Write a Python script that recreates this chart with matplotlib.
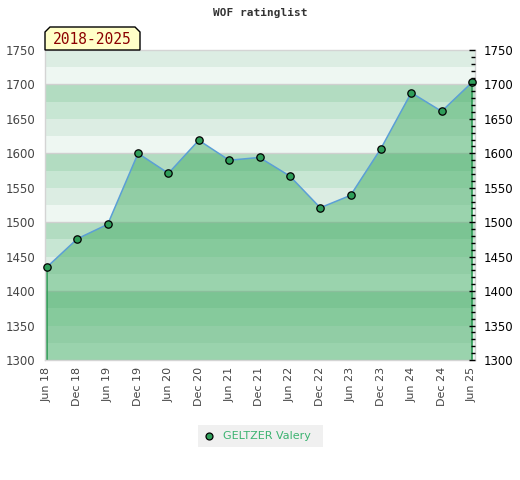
import matplotlib
matplotlib.use("Agg")
import matplotlib.pyplot as plt
from matplotlib.patches import Polygon
from matplotlib.ticker import MultipleLocator

# ---- data ----
periods = ["Jun 18", "Dec 18", "Jun 19", "Dec 19", "Jun 20", "Dec 20", "Jun 21", "Dec 21",
           "Jun 22", "Dec 22", "Jun 23", "Dec 23", "Jun 24", "Dec 24", "Jun 25"]
ratings = [1435, 1476, 1497, 1600, 1571, 1619, 1590, 1594,
           1567, 1521, 1539, 1607, 1688, 1661, 1703]
player = "GELTZER Valery"
title = "WOF ratinglist"
period_label = "2018-2025"
y_min, y_max = 1300, 1750

W, H = 520, 480
fig = plt.figure(figsize=(W / 100, H / 100), dpi=100)

def fx(px):
    return px / W

def fy(py):
    return 1 - py / H

ax_l, ax_r, ax_t, ax_b = 45, 475, 50, 360
ax = fig.add_axes([fx(ax_l), fy(ax_b), (ax_r - ax_l) / W, (ax_b - ax_t) / H])

x = list(range(len(periods)))
step = (472 - 47) / (len(periods) - 1)
ax.set_xlim(-(47 - ax_l) / step, (len(periods) - 1) + (ax_r - 472) / step)
ax.set_ylim(y_min, y_max)

# background bands (period of 100, four shades)
band_cols = ["#eef7f2", "#dcede3", "#c7e6d3", "#b2dcc1"]
lo = y_min
while lo < y_max:
    idx = int(((lo % 100) // 25))
    ax.axhspan(lo, lo + 25, color=band_cols[idx], lw=0, zorder=0)
    lo += 25
for g in range(y_min, y_max + 1, 100):
    ax.axhline(g, color="#d0d0d0", lw=1, zorder=0.5)

# area fill
ax.fill_between(x, ratings, y_min, facecolor="#3dab60", alpha=0.47, lw=0, zorder=1)
ax.plot([x[0], x[0]], [y_min, ratings[0]], color="#2f9a55", lw=1.2, zorder=2)
ax.plot([x[-1], x[-1]], [y_min, ratings[-1]], color="#2f9a55", lw=1.2, zorder=2)
ax.plot(x, ratings, color="#5b9fd6", lw=1.1, zorder=3)
ax.plot(x, ratings, ls="none", marker="o", markersize=5.3, markerfacecolor="#2f9e5a",
        markeredgecolor="black", markeredgewidth=0.9, zorder=4, clip_on=False)

for s in ["left", "top", "bottom", "right"]:
    ax.spines[s].set_color("#d4d4d4")
    ax.spines[s].set_linewidth(1)

ax.set_xticks(x)
ax.set_xticklabels(periods, rotation=90, fontsize=8, color="#444444")
ax.tick_params(axis="x", length=0, pad=5)
ax.yaxis.set_major_locator(MultipleLocator(50))
ax.tick_params(axis="y", length=0, pad=7, labelsize=8.5, labelcolor="#444444")

ax2 = ax.twinx()
ax2.set_ylim(y_min, y_max)
ax2.yaxis.set_major_locator(MultipleLocator(50))
ax2.yaxis.set_minor_locator(MultipleLocator(10))
ax2.tick_params(axis="y", which="major", direction="in", length=4, width=1,
                color="black", labelsize=8.5, labelcolor="black", pad=6)
ax2.tick_params(axis="y", which="minor", direction="in", length=3, width=1, color="black")
for s in ax2.spines.values():
    s.set_visible(False)

# title
fig.text(0.5, fy(13), title, ha="center", va="center", fontsize=8,
         family="DejaVu Sans Mono", fontweight="bold", color="#333333")

# period label box with chamfered top corners
bx0, bx1, by0, by1, c = 45, 140, 27, 50, 5
pts = [(bx0, by1), (bx0, by0 + c), (bx0 + c, by0), (bx1 - c, by0), (bx1, by0 + c), (bx1, by1)]
poly = Polygon([(fx(px), fy(py)) for px, py in pts], closed=True,
               transform=fig.transFigure, facecolor="#ffffc8", edgecolor="black",
               lw=1, zorder=10)
fig.add_artist(poly)
fig.text(fx((bx0 + bx1) / 2), fy(39.5), period_label, ha="center", va="center",
         fontsize=10.5, family="DejaVu Sans Mono", color="#8b0000", zorder=11)

# legend box
lx0, lx1, ly0, ly1 = 198, 323, 425, 447
leg = Polygon([(fx(lx0), fy(ly0)), (fx(lx1), fy(ly0)), (fx(lx1), fy(ly1)), (fx(lx0), fy(ly1))],
              closed=True, transform=fig.transFigure, facecolor="#f0f0f0",
              edgecolor="none", zorder=10)
fig.add_artist(leg)
fig.add_artist(plt.Line2D([fx(209)], [fy(435.5)], transform=fig.transFigure, marker="o",
                          markersize=5.0, markerfacecolor="#2f9e5a",
                          markeredgecolor="black", markeredgewidth=0.9, zorder=11))
fig.text(fx(223), fy(436), player, ha="left", va="center", fontsize=8,
         color="#3cb371", zorder=11)

fig.savefig("out.png", dpi=100)
